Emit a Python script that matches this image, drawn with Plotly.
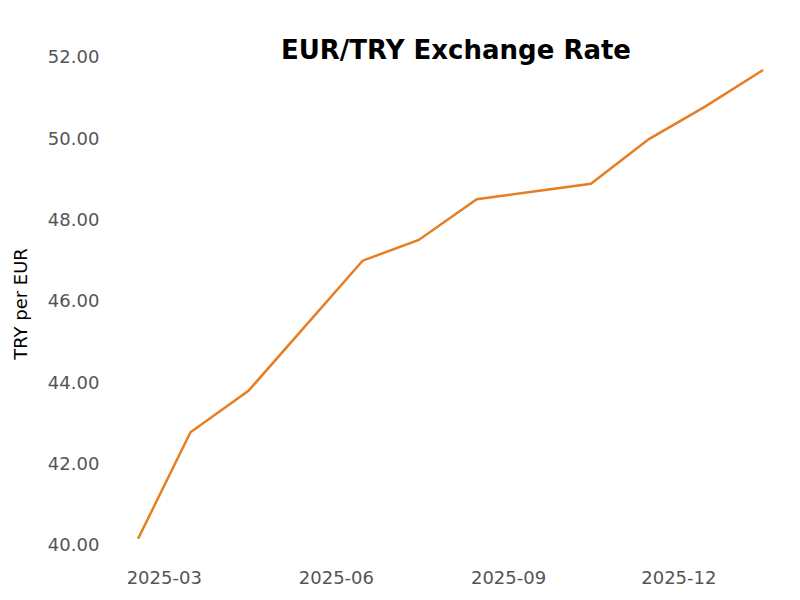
import plotly.graph_objects as go

dates = ["2025-02-15", "2025-03-15", "2025-04-15", "2025-06-15", "2025-07-15",
         "2025-08-15", "2025-10-15", "2025-11-15", "2025-12-15", "2026-01-15"]
rates = [40.15, 42.77, 43.79, 46.99, 47.50, 48.50, 48.88, 49.98, 50.78, 51.68]
tick_vals = ["2025-03-01", "2025-06-01", "2025-09-01", "2025-12-01"]
tick_text = ["2025-03", "2025-06", "2025-09", "2025-12"]

fig = go.Figure(go.Scatter(x=dates, y=rates, mode="lines",
                           line=dict(color="#e67e22", width=2.5)))

fig.update_layout(
    width=800, height=600,
    title=dict(text="<b>EUR/TRY Exchange Rate</b>", x=0.56, y=0.945,
               font=dict(size=26, color="black", family="DejaVu Sans")),
    font=dict(family="DejaVu Sans", size=18, color="#555555"),
    paper_bgcolor="white", plot_bgcolor="white",
    margin=dict(l=95, r=15, t=49, b=57),
    showlegend=False,
    xaxis=dict(tickvals=tick_vals, ticktext=tick_text, showgrid=False,
               zeroline=False, showline=False, range=["2025-01-31", "2026-01-31"],
               ticks="outside", ticklen=10, tickcolor="white"),
    yaxis=dict(title=dict(text="TRY per EUR", font=dict(color="black", size=18)),
               tickformat=".2f", dtick=2, range=[39.85, 52.0], showgrid=False,
               zeroline=False, showline=False,
               ticks="outside", ticklen=6, tickcolor="white"),
)

fig.write_html("out.html")
